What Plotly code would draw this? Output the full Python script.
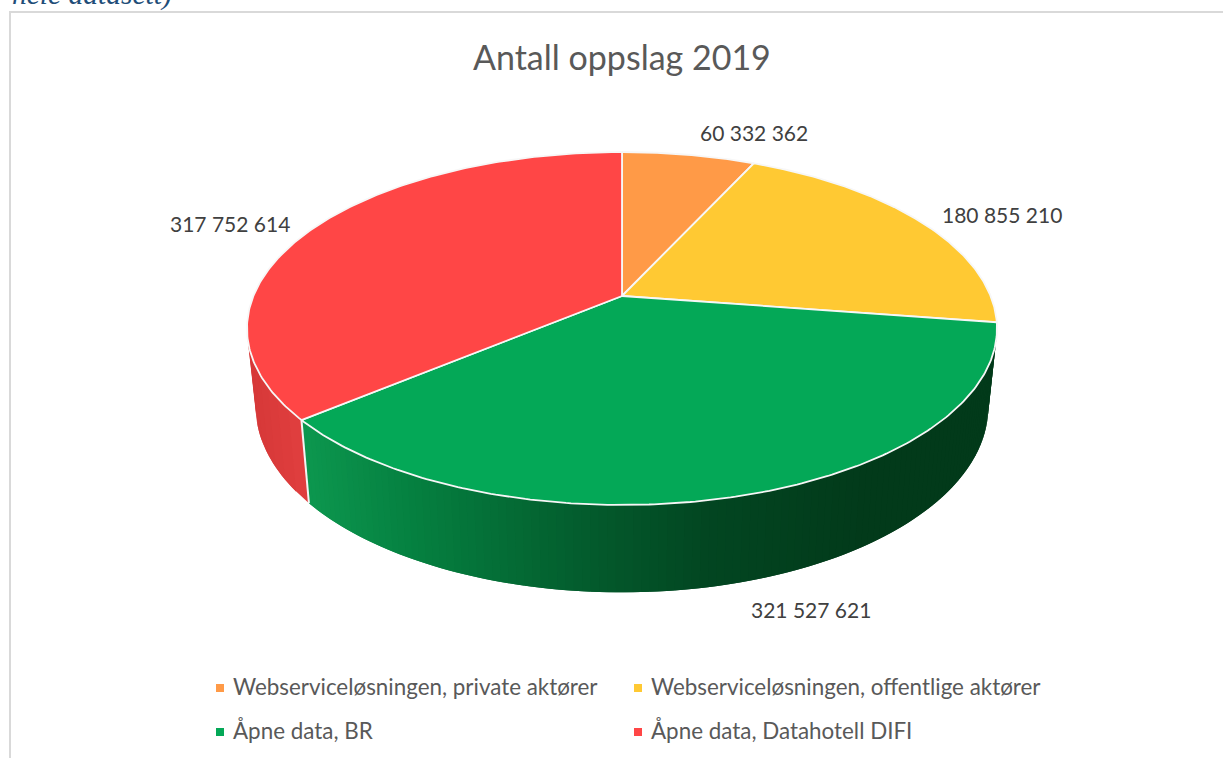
import numpy as np
import plotly.graph_objects as go

categories = ["Webserviceløsningen, private aktører", "Webserviceløsningen, offentlige aktører",
              "Åpne data, BR", "Åpne data, Datahotell DIFI"]
values = [60332362, 180855210, 321527621, 317752614]
title = "Antall oppslag 2019"
top_colors = ["#FF9A47", "#FFC933", "#04A857", "#FF4646"]

# page-pixel layout
W, H = 1223, 758
CX, CY, A, B, K = 622, 296, 368.6, 170.5, 0.184
Y0, A2, B2 = 373, 360, 179
FONT = "Lato"


def top(t):
    u, v = np.sin(t), np.cos(t)
    d = 1 + K * v
    return CX + A * u / d, CY - B * v / d


def bot(t):
    u, v = np.sin(t), np.cos(t)
    d = 1 + K * v
    return CX + A2 * u / d, Y0 - B2 * v / d


def lerp_color(stops, f):
    xs = [s[0] for s in stops]
    rgb = [np.interp(f, xs, [s[1][i] for s in stops]) for i in range(3)]
    return "rgb(%d,%d,%d)" % tuple(int(round(c)) for c in rgb)


# colour by horizontal position along the wall, 0 = left end, 1 = right end
GREEN_WALL = [(0.0, (12, 150, 78)), (0.15, (5, 128, 64)), (0.4, (3, 92, 45)),
              (0.58, (2, 70, 33)), (0.82, (2, 58, 26)), (1.0, (2, 58, 26))]
RED_WALL = [(0.0, (214, 56, 56)), (1.0, (226, 64, 64))]

edges = np.concatenate([[0], np.cumsum(values)]) / np.sum(values) * 2 * np.pi
fig = go.Figure()


def wall(t0, t1, stops, x_lo, x_hi, n):
    ts = np.linspace(t0, t1, n + 1)
    step = ts[1] - ts[0]
    for a, b in zip(ts[:-1], ts[1:]):
        tt = np.linspace(a, min(b + step, t1), 4)
        x1, y1 = top(tt)
        x2, y2 = bot(tt[::-1])
        f = np.clip((0.5 * (x1[0] + x2[0]) - x_lo) / (x_hi - x_lo), 0, 1)
        c = lerp_color(stops, f)
        fig.add_trace(go.Scatter(x=np.r_[x1, x2], y=np.r_[y1, y2], mode="lines", fill="toself",
                                 fillcolor=c, line=dict(color=c, width=0),
                                 hoverinfo="skip", showlegend=False))


# side walls, darkest on the right
wall(edges[2], edges[3], GREEN_WALL, 309, 985, 120)
wall(edges[3], edges[3] + np.radians(52), RED_WALL, 250, 309, 14)

# seam between the green and the red wall
tb = np.array([edges[3]])
fig.add_trace(go.Scatter(x=[top(tb)[0][0], bot(tb)[0][0]], y=[top(tb)[1][0], bot(tb)[1][0]], mode="lines",
                         line=dict(color="#F4F4F4", width=2), hoverinfo="skip", showlegend=False))

# top face
for i, (cat, col) in enumerate(zip(categories, top_colors)):
    tt = np.linspace(edges[i], edges[i + 1], 200)
    x, y = top(tt)
    fig.add_trace(go.Scatter(x=np.r_[CX, x, CX], y=np.r_[CY, y, CY], mode="lines", fill="toself",
                             fillcolor=col, line=dict(color="#F7F7F7", width=1.8),
                             name=cat, hoverinfo="name", showlegend=False))

# legend marks
leg_pos = [(220, 688), (638, 688), (220, 732), (638, 732)]
for (lx, ly), col, cat in zip(leg_pos, top_colors, categories):
    fig.add_trace(go.Scatter(x=[lx], y=[ly], mode="markers", marker=dict(symbol="square", size=8, color=col),
                             hoverinfo="skip", showlegend=False))

ann = []
ann.append(dict(x=622, y=56, text=title, font=dict(family=FONT, size=34, color="#595959")))
label_pos = [(754, 132), (1002, 214), (811, 609), (230, 223)]
for (lx, ly), v in zip(label_pos, values):
    ann.append(dict(x=lx, y=ly, text=f"{v:,}".replace(",", " "), font=dict(family=FONT, size=21, color="#404040")))
for (lx, ly), cat in zip(leg_pos, categories):
    ann.append(dict(x=lx + 11, y=ly - 1.5, text=cat, xanchor="left", font=dict(family=FONT, size=22.4, color="#595959")))
ann.append(dict(x=10, y=0, yshift=6, text="<i>hele datasett)</i>", xanchor="left",
                font=dict(family="Liberation Serif", size=29.5, color="#1F4E79")))
for a in ann:
    a.update(xref="x", yref="y", showarrow=False)
    a.setdefault("xanchor", "center")
    a.setdefault("yanchor", "middle")

fig.update_layout(
    width=W, height=H, margin=dict(l=0, r=0, t=0, b=0), paper_bgcolor="white", plot_bgcolor="white",
    xaxis=dict(range=[0, W], visible=False, fixedrange=True),
    yaxis=dict(range=[H, 0], visible=False, fixedrange=True),
    annotations=ann,
    shapes=[dict(type="rect", xref="x", yref="y", x0=10, y0=12, x1=W + 20, y1=H + 20,
                 line=dict(color="#D9D9D9", width=2), layer="below")],
)
fig.write_html("out.html", config=dict(displayModeBar=False),
               post_script="document.body.style.margin='0';document.body.style.overflow='hidden';")
